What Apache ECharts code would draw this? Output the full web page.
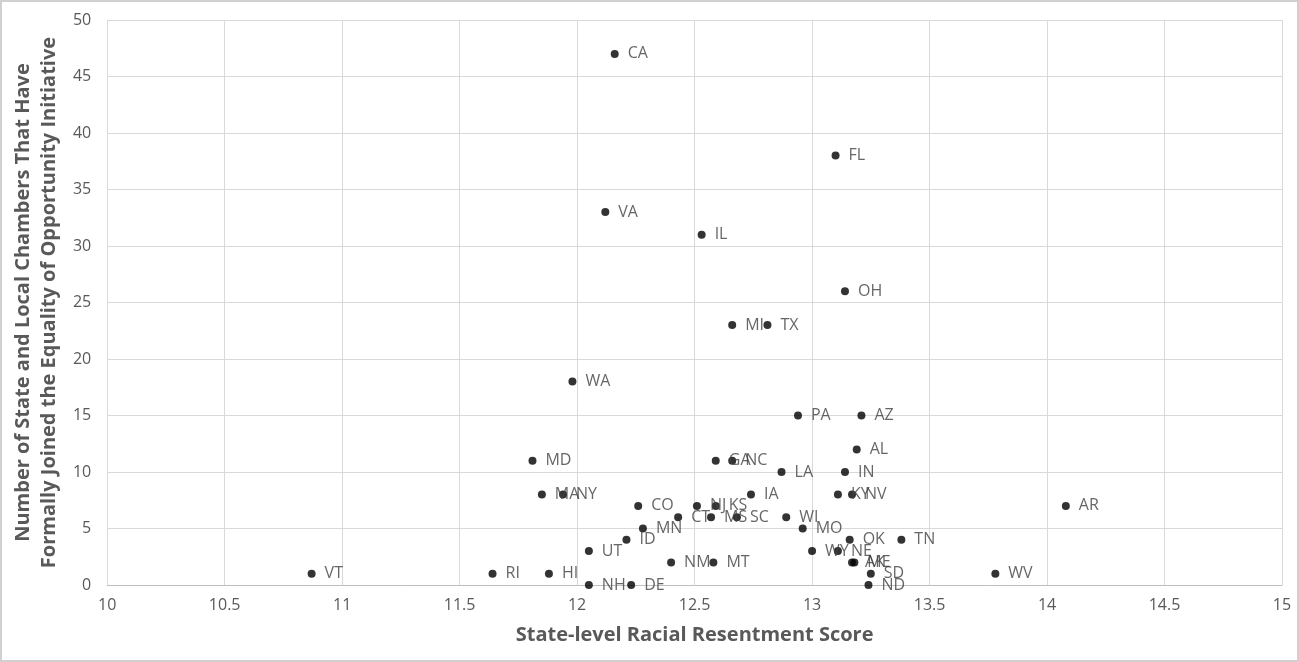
<!DOCTYPE html>
<html><head><meta charset="utf-8">
<script src="https://cdn.jsdelivr.net/npm/echarts@6/dist/echarts.min.js"></script>
<style>html,body{margin:0;padding:0;background:#fff}#c{width:1299px;height:662px;box-sizing:border-box;border:2px solid #d0d0d0}</style>
</head><body><div id="c"></div>
<script>
const states = ["CA","FL","VA","IL","OH","MI","TX","WA","PA","AZ","AL","MD","GA","NC","LA","IN","MA","NY","IA","KY","NV","AR","CO","NJ","KS","CT","MS","SC","WI","MN","MO","ID","OK","TN","UT","WY","NE","NM","MT","AK","ME","SD","ND","VT","RI","HI","NH","DE","WV"];
const resentment = [12.16,13.10,12.12,12.53,13.14,12.66,12.81,11.98,12.94,13.21,13.19,11.81,12.59,12.66,12.87,13.14,11.85,11.94,12.74,13.11,13.17,14.08,12.26,12.51,12.59,12.43,12.57,12.68,12.89,12.28,12.96,12.21,13.16,13.38,12.05,13.00,13.11,12.40,12.58,13.17,13.18,13.25,13.24,10.87,11.64,11.88,12.05,12.23,13.78];
const chambers = [47,38,33,31,26,23,23,18,15,15,12,11,11,11,10,10,8,8,8,8,8,7,7,7,7,6,6,6,6,5,5,4,4,4,3,3,3,2,2,2,2,1,0,1,1,1,0,0,1];
const xTitle = "State-level Racial Resentment Score";
const yTitle = "Number of State and Local Chambers That Have\nFormally Joined the Equality of Opportunity Initiative";

const data = states.map((s,i)=>({name:s,value:[resentment[i],chambers[i]]}));
const chart = echarts.init(document.getElementById('c'));
const font = "'Open Sans', sans-serif";
chart.setOption({
  animation:false,
  grid:{left:105,right:15,top:18,bottom:75},
  xAxis:{type:'value',min:10,max:15,interval:0.5,
    name:xTitle,nameLocation:'middle',nameGap:40,
    nameTextStyle:{fontFamily:font,fontSize:20,fontWeight:'bold',color:'#595959'},
    axisLine:{show:true,lineStyle:{color:'#bfbfbf'}},axisTick:{show:false},
    axisLabel:{fontFamily:font,fontSize:16,color:'#595959',margin:12},
    splitLine:{show:true,lineStyle:{color:'#d9d9d9'}}},
  yAxis:{type:'value',min:0,max:50,interval:5,
    name:yTitle,nameLocation:'middle',nameGap:45,nameRotate:90,
    nameTextStyle:{fontFamily:font,fontSize:20,fontWeight:'bold',color:'#595959',lineHeight:26},
    axisLine:{show:true,lineStyle:{color:'#d9d9d9'}},axisTick:{show:false},
    axisLabel:{fontFamily:font,fontSize:16,color:'#595959',margin:16},
    splitLine:{show:true,lineStyle:{color:'#d9d9d9'}}},
  series:[{type:'scatter',data:data,symbol:'circle',symbolSize:8,
    itemStyle:{color:'#000'},
    label:{show:true,position:'right',distance:9,formatter:p=>p.name,
      fontFamily:font,fontSize:16,color:'#404040'},
    labelLayout:{hideOverlap:false}}]
});
</script></body></html>
